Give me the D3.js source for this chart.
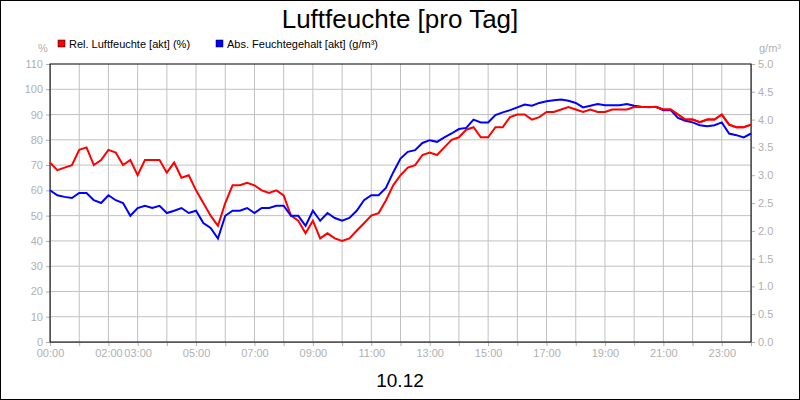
<!DOCTYPE html>
<html>
<head>
<meta charset="UTF-8">
<script src="https://d3js.org/d3.v7.min.js"></script>
<style>
body{margin:0;}
text{font-family:Arial,"Liberation Sans",sans-serif;}
.tick text{fill:#b0b0b0;font-size:11px;}
</style>
</head>
<body>
<svg id="chart" width="800" height="400"></svg>
<script>
// readings every 15 minutes, 00:00 .. 24:00
const relHum = [71,68,69,70,76,77,70,72,76,75,70,72,66,72,72,72,67,71,65,66,60,55,50,46,
  55,62,62,63,62,60,59,60,58,50,48,43,48,41,43,41,40,41,44,47,50,51,56,62,
  66,69,70,74,75,74,77,80,81,84,85,81,81,85,85,89,90,90,88,89,91,91,92,93,
  92,91,92,91,91,92,92,92,93,93,93,93,92,92,90,88,88,87,88,88,90,86,85,85,86];
const absHum = [2.73,2.64,2.61,2.59,2.68,2.68,2.55,2.5,2.64,2.55,2.5,2.27,2.41,2.45,2.41,2.45,
  2.32,2.36,2.41,2.32,2.36,2.14,2.05,1.86,2.27,2.36,2.36,2.41,2.32,2.41,2.41,2.45,
  2.45,2.27,2.27,2.09,2.36,2.18,2.32,2.23,2.18,2.23,2.36,2.55,2.64,2.64,2.77,3.05,
  3.3,3.42,3.45,3.58,3.63,3.6,3.68,3.75,3.83,3.85,4.0,3.95,3.95,4.08,4.13,4.17,
  4.22,4.27,4.25,4.3,4.33,4.35,4.36,4.34,4.3,4.22,4.25,4.28,4.26,4.26,4.26,4.28,
  4.25,4.23,4.22,4.23,4.17,4.17,4.03,3.98,3.95,3.9,3.88,3.9,3.95,3.75,3.72,3.68,3.75];
const hourLabels = {0:"00:00",2:"02:00",3:"03:00",5:"05:00",7:"07:00",9:"09:00",11:"11:00",
  13:"13:00",15:"15:00",17:"17:00",19:"19:00",21:"21:00",23:"23:00"};
const leftTicks = d3.range(0, 111, 10);
const rightTicks = d3.range(0, 5.01, 0.5);

const svg = d3.select("#chart");
const L = 50, R = 751, T = 64, B = 342;
const x = d3.scaleLinear().domain([0, 24]).range([L, R]);
const yL = d3.scaleLinear().domain([0, 110]).range([B, T]);
const yR = d3.scaleLinear().domain([0, 5]).range([B, T]);

svg.append("rect").attr("x",0.5).attr("y",0.5).attr("width",799).attr("height",399)
  .attr("fill","#fff").attr("stroke","#000");

svg.append("text").attr("x",400).attr("y",28).attr("text-anchor","middle")
  .attr("font-size",26).text("Luftfeuchte [pro Tag]");

// grid
const grid = svg.append("g").attr("stroke","#c0c0c0");
d3.range(1, 24).forEach(h => grid.append("line").attr("x1",x(h)).attr("x2",x(h)).attr("y1",T).attr("y2",B));
leftTicks.slice(1, -1).forEach(v => grid.append("line").attr("x1",L).attr("x2",R).attr("y1",yL(v)).attr("y2",yL(v)));

// axes
svg.append("g").attr("transform",`translate(${L},0)`)
  .call(d3.axisLeft(yL).tickValues(leftTicks).tickSize(4).tickSizeOuter(0))
  .call(g => g.selectAll("line,path").attr("stroke","#b0b0b0"));
svg.append("g").attr("transform",`translate(${R},0)`)
  .call(d3.axisRight(yR).tickValues(rightTicks).tickFormat(d3.format(".1f")).tickSize(4).tickSizeOuter(0))
  .call(g => g.selectAll("line,path").attr("stroke","#b0b0b0"));
svg.append("g").attr("transform",`translate(0,${B})`)
  .call(d3.axisBottom(x).tickValues(d3.range(0, 25)).tickFormat(h => hourLabels[h] || "").tickSize(4).tickSizeOuter(0))
  .call(g => g.selectAll("line,path").attr("stroke","#b0b0b0"));

svg.append("rect").attr("x",L).attr("y",T).attr("width",R-L).attr("height",B-T)
  .attr("fill","none").attr("stroke","#000");

svg.append("text").attr("x",43).attr("y",52).attr("text-anchor","middle").attr("font-size",11).attr("fill","#b0b0b0").text("%");
svg.append("text").attr("x",770).attr("y",52).attr("text-anchor","middle").attr("font-size",11).attr("fill","#b0b0b0").text("g/m³");

// series
const tOf = i => i / 4;
svg.append("path").datum(relHum).attr("fill","none").attr("stroke","#ff0000").attr("stroke-width",2)
  .attr("d", d3.line().x((d,i) => x(tOf(i))).y(d => yL(d)));
svg.append("path").datum(absHum).attr("fill","none").attr("stroke","#0000ff").attr("stroke-width",2)
  .attr("d", d3.line().x((d,i) => x(tOf(i))).y(d => yR(d)));
// red drawn above blue where overlapping at end: redraw red late part
svg.append("path").datum(relHum.slice(80)).attr("fill","none").attr("stroke","#ff0000").attr("stroke-width",2)
  .attr("d", d3.line().x((d,i) => x(tOf(i + 80))).y(d => yL(d)));

// legend
const legend = [["Rel. Luftfeuchte [akt] (%)","#ff0000",58],["Abs. Feuchtegehalt [akt] (g/m³)","#0000ff",216]];
legend.forEach(([label,col,lx]) => {
  svg.append("rect").attr("x",lx).attr("y",40).attr("width",7).attr("height",7).attr("fill",col).attr("stroke","#000").attr("stroke-width",0.5);
  svg.append("text").attr("x",lx+11).attr("y",48).attr("font-size",11).text(label);
});

svg.append("text").attr("x",400).attr("y",387).attr("text-anchor","middle").attr("font-size",19).text("10.12");
</script>
</body>
</html>
